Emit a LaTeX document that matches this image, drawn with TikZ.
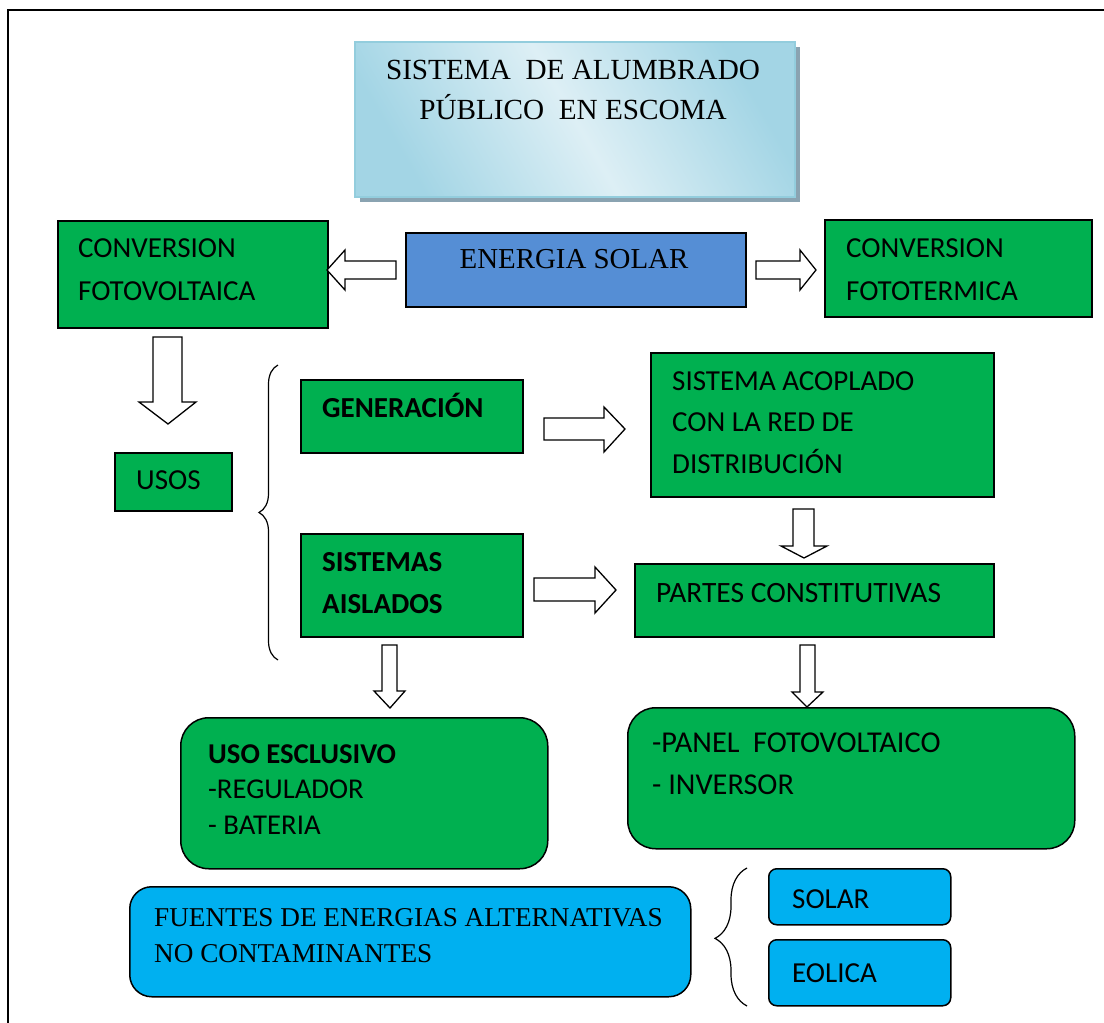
\documentclass[tikz,border=0pt]{standalone}
\usepackage{fontspec}
\setmainfont{Carlito}
\newfontfamily\tnr{Liberation Serif}
\usetikzlibrary{decorations.pathreplacing}
\definecolor{wgreen}{HTML}{00B050}
\definecolor{wblue}{HTML}{558ED5}
\definecolor{wcyan}{HTML}{00B0F0}
\definecolor{tA}{HTML}{A3D5E5}
\definecolor{tB}{HTML}{DDEFF5}
\definecolor{tline}{HTML}{93CDDD}
\definecolor{tshadow}{HTML}{8AA3B1}
\begin{document}
\begin{tikzpicture}[x=1pt,y=-1pt,
  box/.style={draw=black, line width=1.5pt, fill=wgreen, inner sep=0pt, anchor=north west},
  rbox/.style={box, rounded corners=28pt},
  cbox/.style={box, fill=wcyan},
  txt/.style={anchor=base west, inner sep=0pt, font=\fontsize{29}{35}\selectfont},
  btxt/.style={txt, font=\fontsize{29}{35}\selectfont\bfseries},
  stxt/.style={txt, font=\fontsize{28.7}{33}\selectfont},
  serif/.style={anchor=base, inner sep=0pt, font=\fontsize{29.2}{35}\selectfont\tnr},
  barrow/.style={draw=black, fill=white, line width=1.3pt, line join=miter},
  bracestyle/.style={draw=black, line width=1.2pt, decorate}
]
\useasboundingbox (0,0) rectangle (1104,1023);
\fill[white] (0,0) rectangle (1104,1023);
% frame
\draw[line width=2pt] (1104,10) -- (8,10) -- (8,1023);

% title
\fill[tshadow] (360,47) rectangle (800,202);
\node[box, draw=tline, line width=1.5pt, left color=tA, right color=tA, middle color=tB, shading angle=120,
      minimum width=440, minimum height=155] (title) at (354,41) {};
\node[serif] (t1) at (573,79) {SISTEMA\ \ DE ALUMBRADO};
\node[serif] (t2) at (573,119) {PÚBLICO\ \ EN ESCOMA};

% top row
\node[box, minimum width=270, minimum height=107] (fv) at (57,220) {};
\node[txt] (fv1) at (78,257) {CONVERSION};
\node[txt] (fv2) at (78,300) {FOTOVOLTAICA};

\node[box, fill=wblue, minimum width=340, minimum height=74] (es) at (405,232) {};
\node[serif, font=\fontsize{28.9}{33}\selectfont\tnr] (es1) at (574,268) {ENERGIA SOLAR};

\node[box, minimum width=267, minimum height=97] (ft) at (824,219) {};
\node[txt] (ft1) at (846,257) {CONVERSION};
\node[txt] (ft2) at (846,300) {FOTOTERMICA};

% middle
\node[box, minimum width=117, minimum height=58] (usos) at (114,452) {};
\node[txt] (usos1) at (136,489) {USOS};

\node[box, minimum width=222, minimum height=73] (gen) at (300,379) {};
\node[btxt] (gen1) at (322,417) {GENERACIÓN};

\node[box, minimum width=222, minimum height=103] (sa) at (300,533) {};
\node[btxt] (sa1) at (322,571) {SISTEMAS};
\node[btxt] (sa2) at (322,613) {AISLADOS};

\node[box, minimum width=343, minimum height=144] (acop) at (650,352) {};
\node[txt] (ac1) at (672,390) {SISTEMA ACOPLADO};
\node[txt] (ac2) at (672,431) {CON LA RED DE};
\node[txt] (ac3) at (672,473) {DISTRIBUCIÓN};

\node[box, minimum width=359, minimum height=73] (partes) at (634,563) {};
\node[txt, font=\fontsize{29.5}{35}\selectfont] (pa1) at (656,602) {PARTES CONSTITUTIVAS};

% lower
\node[rbox, minimum width=367, minimum height=151] (uso) at (180,717) {};
\node[btxt, font=\fontsize{28.7}{33}\selectfont\bfseries] (uso1) at (208,763) {USO ESCLUSIVO};
\node[stxt] (uso2) at (208,798) {-REGULADOR};
\node[stxt] (uso3) at (208,834) {- BATERIA};

\node[rbox, minimum width=447, minimum height=141] (panel) at (627,707) {};
\node[txt, font=\fontsize{30.3}{35}\selectfont] (pn1) at (652,752) {-PANEL\ \ FOTOVOLTAICO};
\node[txt, font=\fontsize{30.3}{35}\selectfont] (pn2) at (652,794) {- INVERSOR};

\node[cbox, rounded corners=22pt, minimum width=561, minimum height=110] (fuentes) at (129,886) {};
\node[txt, font=\fontsize{27.2}{33}\selectfont\tnr] (fu1) at (154,926) {FUENTES DE ENERGIAS ALTERNATIVAS};
\node[txt, font=\fontsize{27.2}{33}\selectfont\tnr] (fu2) at (154,962) {NO CONTAMINANTES};

\node[cbox, rounded corners=8pt, minimum width=182, minimum height=56] (solar) at (768,868) {};
\node[txt] (so1) at (792,908) {SOLAR};
\node[cbox, rounded corners=8pt, minimum width=182, minimum height=66] (eolica) at (768,939) {};
\node[txt] (eo1) at (792,982) {EOLICA};

% block arrows
% energia -> fotovoltaica
\draw[barrow] (396,261) -- (345,261) -- (345,250) -- (327,270) -- (345,290) -- (345,279) -- (396,279) -- cycle;
% energia -> fototermica
\draw[barrow] (756,261) -- (800,261) -- (800,250) -- (816,270) -- (800,290) -- (800,279) -- (756,279) -- cycle;
% fotovoltaica -> usos
\draw[barrow] (153,337) -- (182,337) -- (182,402) -- (196,402) -- (168,424) -- (139,402) -- (153,402) -- cycle;
% generacion -> acoplado
\draw[barrow] (544,418) -- (604,418) -- (604,407) -- (625,429) -- (604,452) -- (604,440) -- (544,440) -- cycle;
% aislados -> partes
\draw[barrow] (534,578) -- (595,578) -- (595,567) -- (616,590) -- (595,613) -- (595,601) -- (534,601) -- cycle;
% acoplado -> partes
\draw[barrow] (793,509) -- (814,509) -- (814,546) -- (827,546) -- (804,558) -- (781,546) -- (793,546) -- cycle;
% aislados -> uso exclusivo
\draw[barrow] (382,645) -- (397,645) -- (397,691) -- (405,691) -- (390,708) -- (374,691) -- (382,691) -- cycle;
% partes -> panel
\draw[barrow] (800,645) -- (815,645) -- (815,692) -- (823,692) -- (807,707) -- (792,692) -- (800,692) -- cycle;

% braces
\draw[bracestyle, decoration={brace, amplitude=19pt}] (278,660) -- (278,365);
\draw[bracestyle, decoration={brace, amplitude=32pt, aspect=0.49}] (747,1006) -- (747,868);
\end{tikzpicture}
\end{document}
